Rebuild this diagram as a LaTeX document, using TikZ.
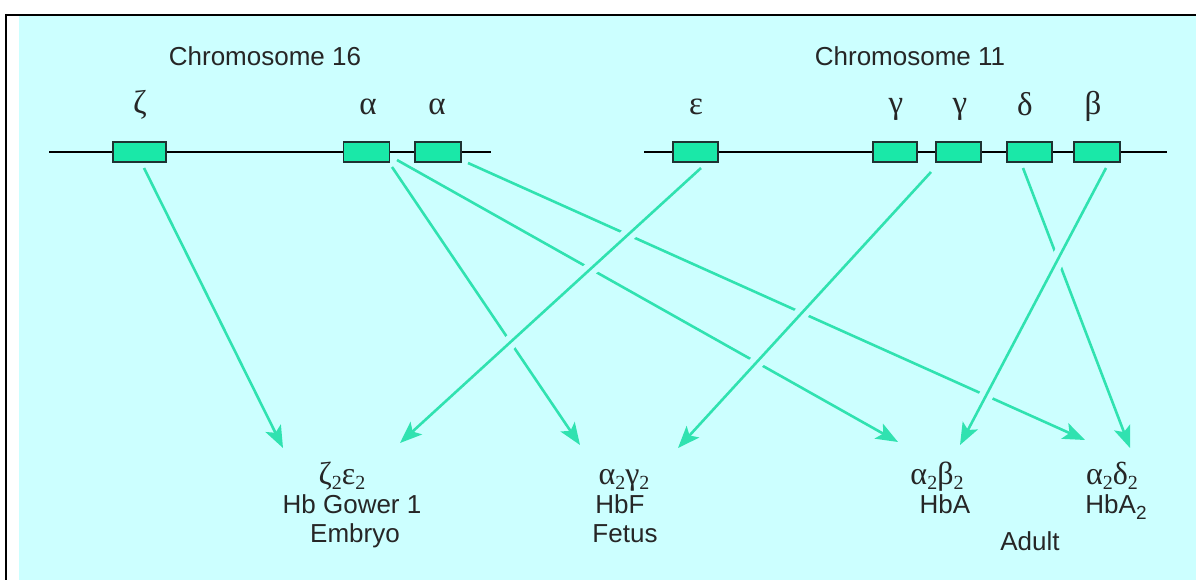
\documentclass[tikz,border=0pt]{standalone}
\usepackage{fontspec}
\setmainfont{Liberation Sans}
\newfontfamily\gk{Liberation Serif}
\usetikzlibrary{arrows.meta}
\definecolor{bgcyan}{RGB}{204,255,255}
\definecolor{genefill}{RGB}{26,232,168}
\definecolor{arrowcol}{RGB}{48,226,176}
\definecolor{boxline}{RGB}{30,50,50}
\newcommand\gsub[1]{\raisebox{-5pt}{\fontsize{20pt}{20pt}\selectfont\gk #1}}
\newcommand\ssub[1]{\raisebox{-6pt}{\fontsize{19pt}{19pt}\selectfont #1}}
\tikzset{
  gene/.style={draw=boxline, line width=1.6pt, fill=genefill, minimum height=20pt, inner sep=0pt},
  chrom/.style={line width=2pt, black},
  glabel/.style={font=\gk\fontsize{33pt}{33pt}\selectfont, inner sep=0pt, text=black!85},
  title/.style={font=\fontsize{26pt}{26pt}\selectfont, inner sep=0pt, text=black!85},
  blabel/.style={font=\fontsize{26pt}{26pt}\selectfont, inner sep=0pt, anchor=base, text=black!85},
  bgreek/.style={blabel, font=\gk\fontsize{32pt}{32pt}\selectfont},
  link/.style={draw=arrowcol, line width=2.6pt, -{Stealth[length=22pt,width=17pt,inset=5pt]}},
  toplink/.style={link, preaction={draw=bgcyan, line width=14pt, -, shorten <=22pt, shorten >=24pt}}
}
\begin{document}
\begin{tikzpicture}[x=1pt,y=-1pt]
\useasboundingbox (0,0) rectangle (1196,580);
\fill[white] (0,0) rectangle (1196,580);
\fill[bgcyan] (19,16) rectangle (1196,580);
\draw[line width=2pt] (5,15) -- (1196,15);
\draw[line width=2pt] (6,14) -- (6,580);

% titles
\node[title] (t16) at (265,56) {Chromosome 16};
\node[title] (t11) at (910,56) {Chromosome 11};

% chromosome lines
\coordinate (c16a) at (49,152);
\coordinate (c16b) at (491,152);
\coordinate (c11a) at (644,152);
\coordinate (c11b) at (1167,152);
\draw[chrom] (c16a) -- (c16b);
\draw[chrom] (c11a) -- (c11b);

% genes
\node[gene, minimum width=53pt] (zeta) at (139.5,152) {};
\node[gene, minimum width=46pt] (a1) at (366.5,152) {};
\node[gene, minimum width=46pt] (a2) at (438,152) {};
\node[gene, minimum width=45pt] (eps) at (695.5,152) {};
\node[gene, minimum width=44pt] (g1) at (895,152) {};
\node[gene, minimum width=45pt] (g2) at (958.5,152) {};
\node[gene, minimum width=45pt] (del) at (1029.5,152) {};
\node[gene, minimum width=46pt] (bet) at (1097,152) {};

% gene labels
\node[glabel] (lz) at (140,105) {ζ};
\node[glabel] (la1) at (368,107) {α};
\node[glabel] (la2) at (437,107) {α};
\node[glabel] (le) at (696,107) {ε};
\node[glabel] (lg1) at (896,109) {γ};
\node[glabel] (lg2) at (960,109) {γ};
\node[glabel] (ld) at (1025,104) {δ};
\node[glabel] (lb) at (1093,106) {β};

% bottom labels
\node[bgreek] (pe) at (342,484) {ζ\gsub{2}ε\gsub{2}};
\node[blabel] (ne) at (352,513) {Hb Gower 1};
\node[blabel] (se) at (355,542) {Embryo};
\node[bgreek] (pf) at (624,484) {α\gsub{2}γ\gsub{2}};
\node[blabel] (nf) at (620,513) {HbF};
\node[blabel] (sf) at (625,542) {Fetus};
\node[bgreek] (pa) at (937,484) {α\gsub{2}β\gsub{2}};
\node[blabel] (na) at (945,513) {HbA};
\node[bgreek] (pa2) at (1112,484) {α\gsub{2}δ\gsub{2}};
\node[blabel] (na2) at (1116,513) {HbA\ssub{2}};
\node[blabel] (sa) at (1030,550) {Adult};

% connector ends
\coordinate (sz) at (144,168);
\coordinate (sa1f) at (392,167);
\coordinate (sa1a) at (397,160);
\coordinate (sa2) at (468,163);
\coordinate (se1) at (701,168);
\coordinate (sg2) at (931,172);
\coordinate (sd) at (1023,168);
\coordinate (sb) at (1106,168);
\coordinate (tz) at (283,448);
\coordinate (te) at (400,443);
\coordinate (ta1f) at (580,445);
\coordinate (tg2) at (678,448);
\coordinate (ta1a) at (898,442);
\coordinate (tb) at (960,445);
\coordinate (ta2) at (1085,440);
\coordinate (td) at (1130,448);

% lower connectors
\draw[link] (sz) -- (tz);
\draw[link] (sa1f) -- (ta1f);
\draw[link] (sa1a) -- (ta1a);
\draw[link] (sa2) -- (ta2);
\draw[link] (sd) -- (td);
% upper connectors (break the ones beneath)
\draw[toplink] (se1) -- (te);
\draw[toplink] (sg2) -- (tg2);
\draw[toplink] (sb) -- (tb);
\end{tikzpicture}
\end{document}
